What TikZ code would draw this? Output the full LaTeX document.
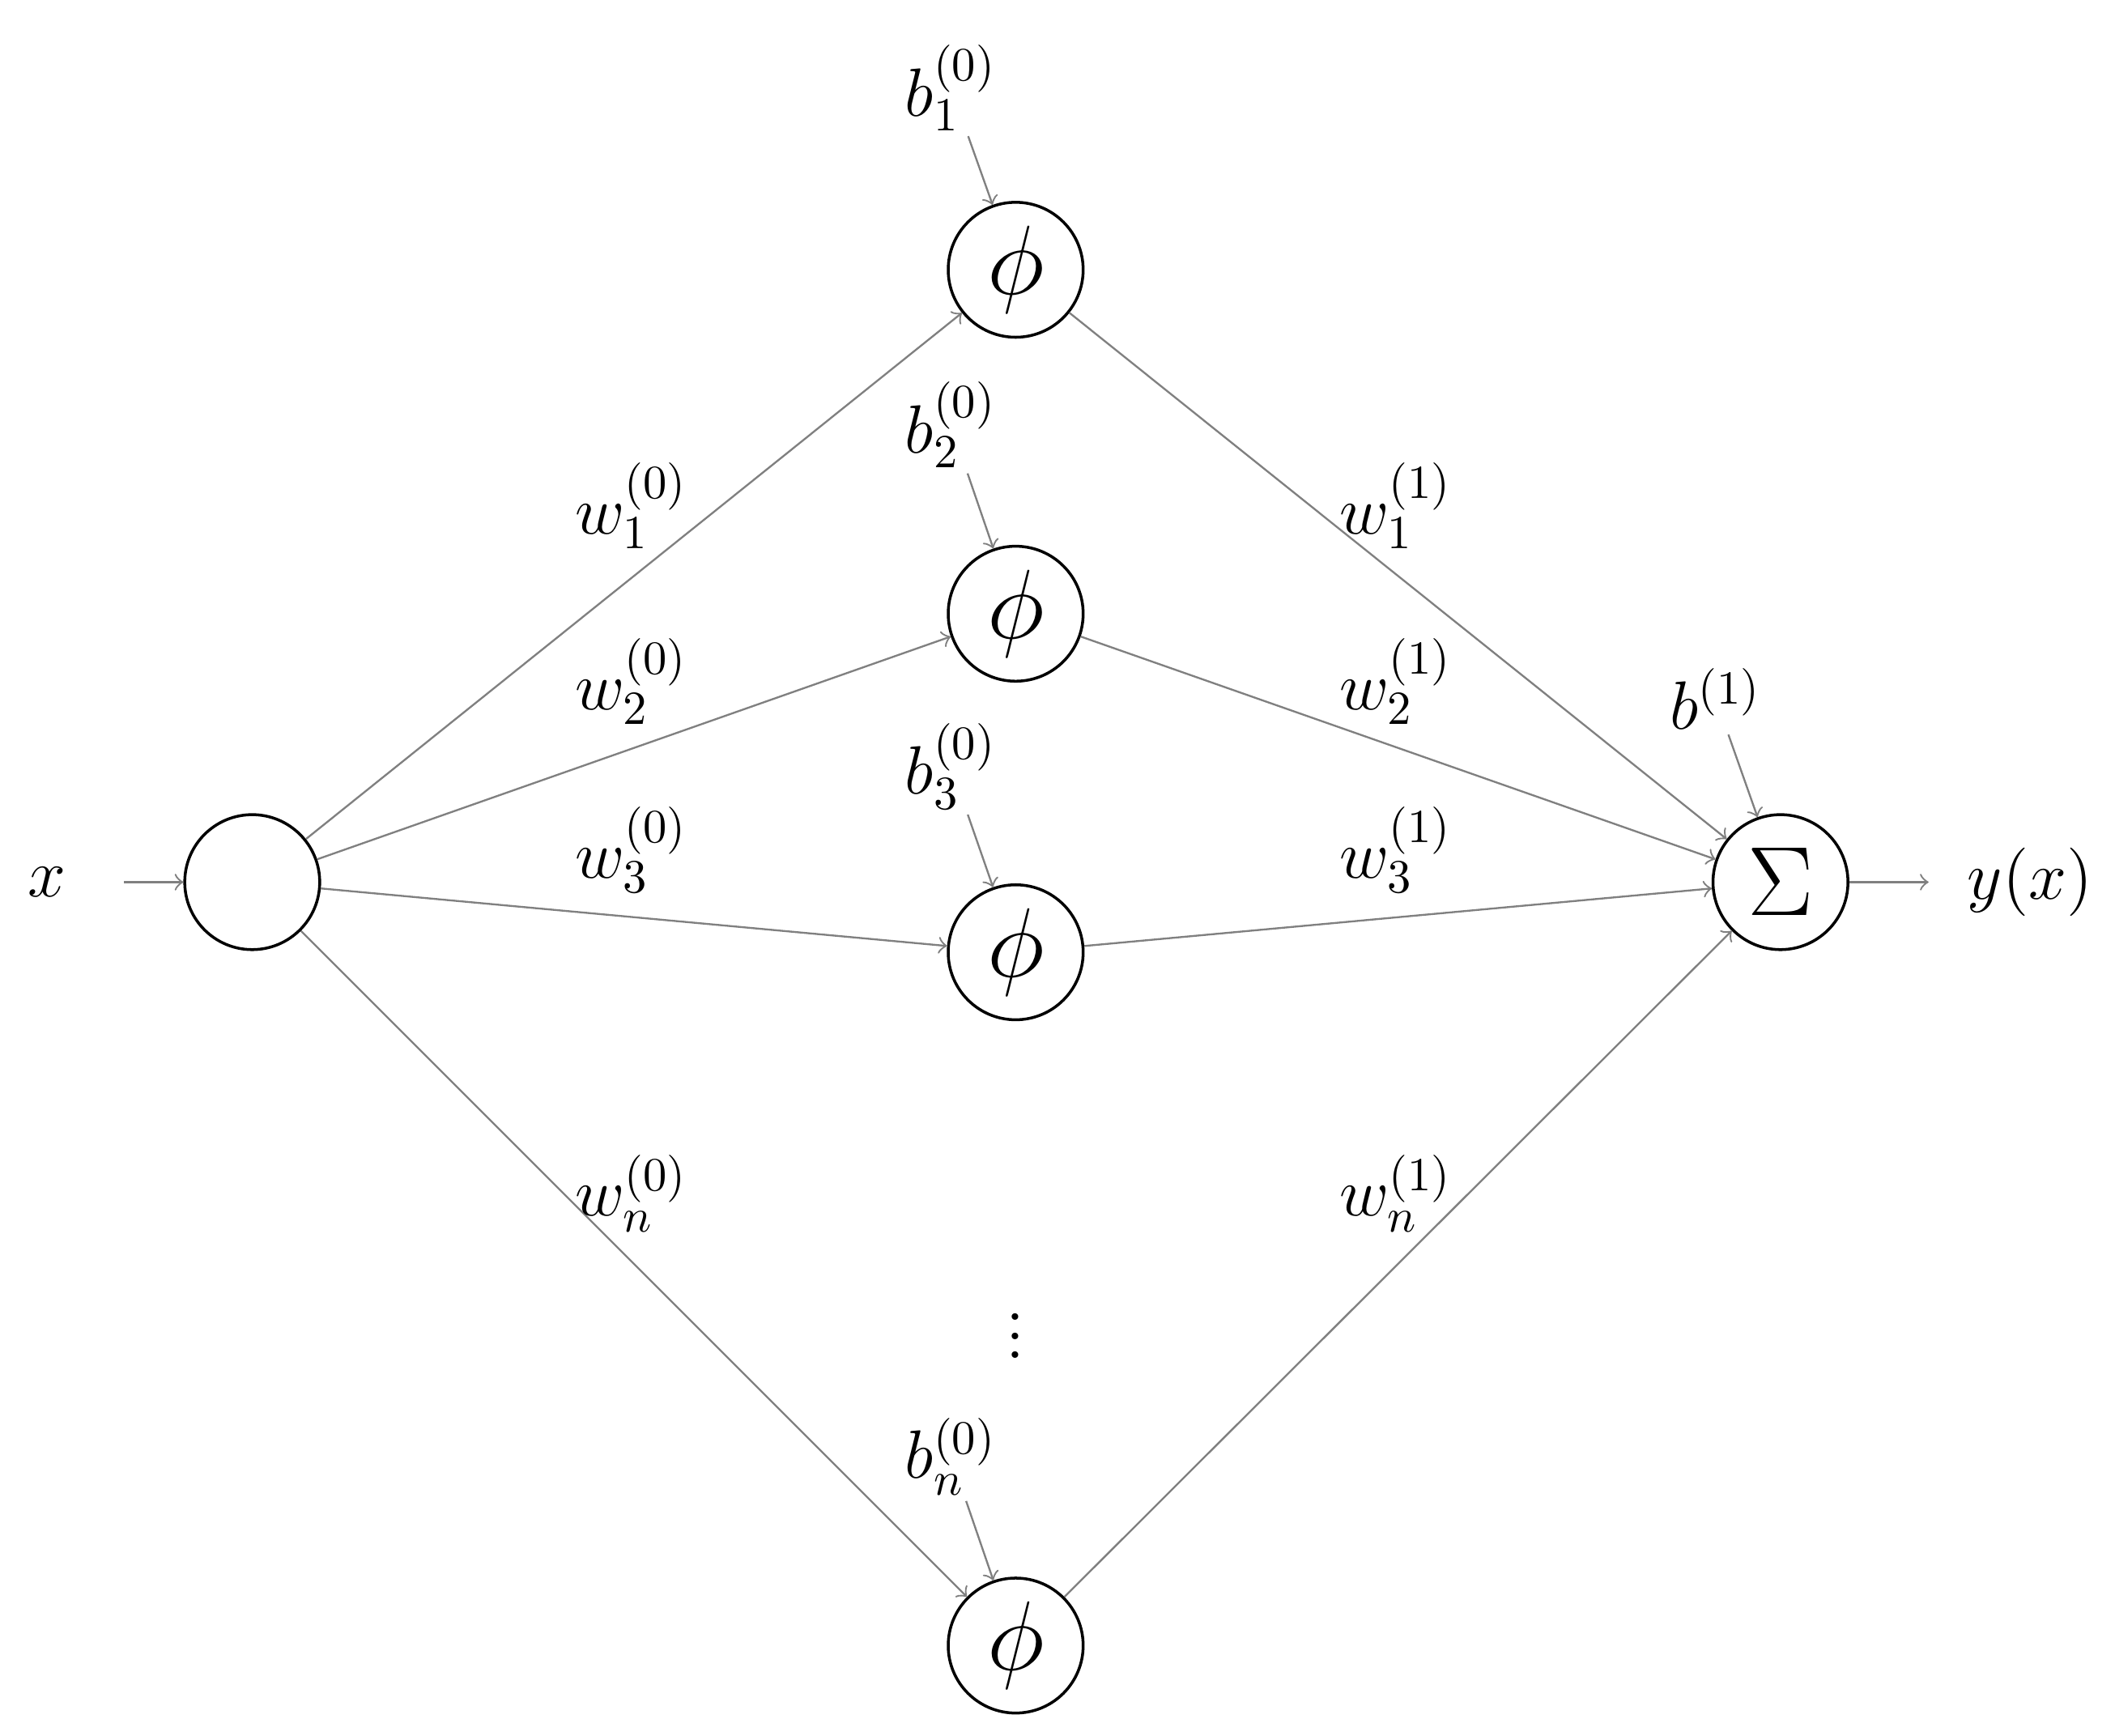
\documentclass[tikz,border=0pt]{standalone}
\begin{document}
\begin{tikzpicture}[x=0.01cm,y=-0.01cm,
neuron/.style={circle,draw,semithick,minimum size=1cm,inner sep=0pt,font=\huge},
edge/.style={draw=gray,->,>=to},
lab/.style={font=\Large,inner sep=1pt}]
\useasboundingbox (0,0) rectangle (1568,1287);
\node[neuron] (in) at (187,654) {};
\node[neuron] (p1) at (753,200) {$\phi$};
\node[neuron] (p2) at (753,455) {$\phi$};
\node[neuron] (p3) at (753,706) {$\phi$};
\node[neuron] (pn) at (753,1220) {$\phi$};
\node[neuron] (s) at (1320,654) {$\Sigma$};
\node[lab,inner sep=12pt] (x) at (35,654) {$x$};
\node[lab,inner sep=8pt] (y) at (1505,654) {$y(x)$};
\node[lab] (b1) at (705,65) {$b_1^{(0)}$};
\node[lab] (b2) at (705,315) {$b_2^{(0)}$};
\node[lab] (b3) at (705,568) {$b_3^{(0)}$};
\node[lab] (bn) at (705,1080) {$b_n^{(0)}$};
\node[lab] (bs) at (1272,518) {$b^{(1)}$};
\node[font=\Large] (dots) at (753,980) {$\vdots$};
\draw[edge] (x) -- (in);
\draw[edge] (s) -- (y);
\draw[edge] (b1) -- (p1);
\draw[edge] (b2) -- (p2);
\draw[edge] (b3) -- (p3);
\draw[edge] (bn) -- (pn);
\draw[edge] (bs) -- (s);
\foreach \n in {1,2,3,n}{\draw[edge] (in) -- (p\n); \draw[edge] (p\n) -- (s);}
\node[lab] (w01) at (468,375) {$w_1^{(0)}$};
\node[lab] (w02) at (468,505) {$w_2^{(0)}$};
\node[lab] (w03) at (468,630) {$w_3^{(0)}$};
\node[lab] (w0n) at (468,885) {$w_n^{(0)}$};
\node[lab] (w11) at (1035,375) {$w_1^{(1)}$};
\node[lab] (w12) at (1035,505) {$w_2^{(1)}$};
\node[lab] (w13) at (1035,630) {$w_3^{(1)}$};
\node[lab] (w1n) at (1035,885) {$w_n^{(1)}$};
\end{tikzpicture}
\end{document}
